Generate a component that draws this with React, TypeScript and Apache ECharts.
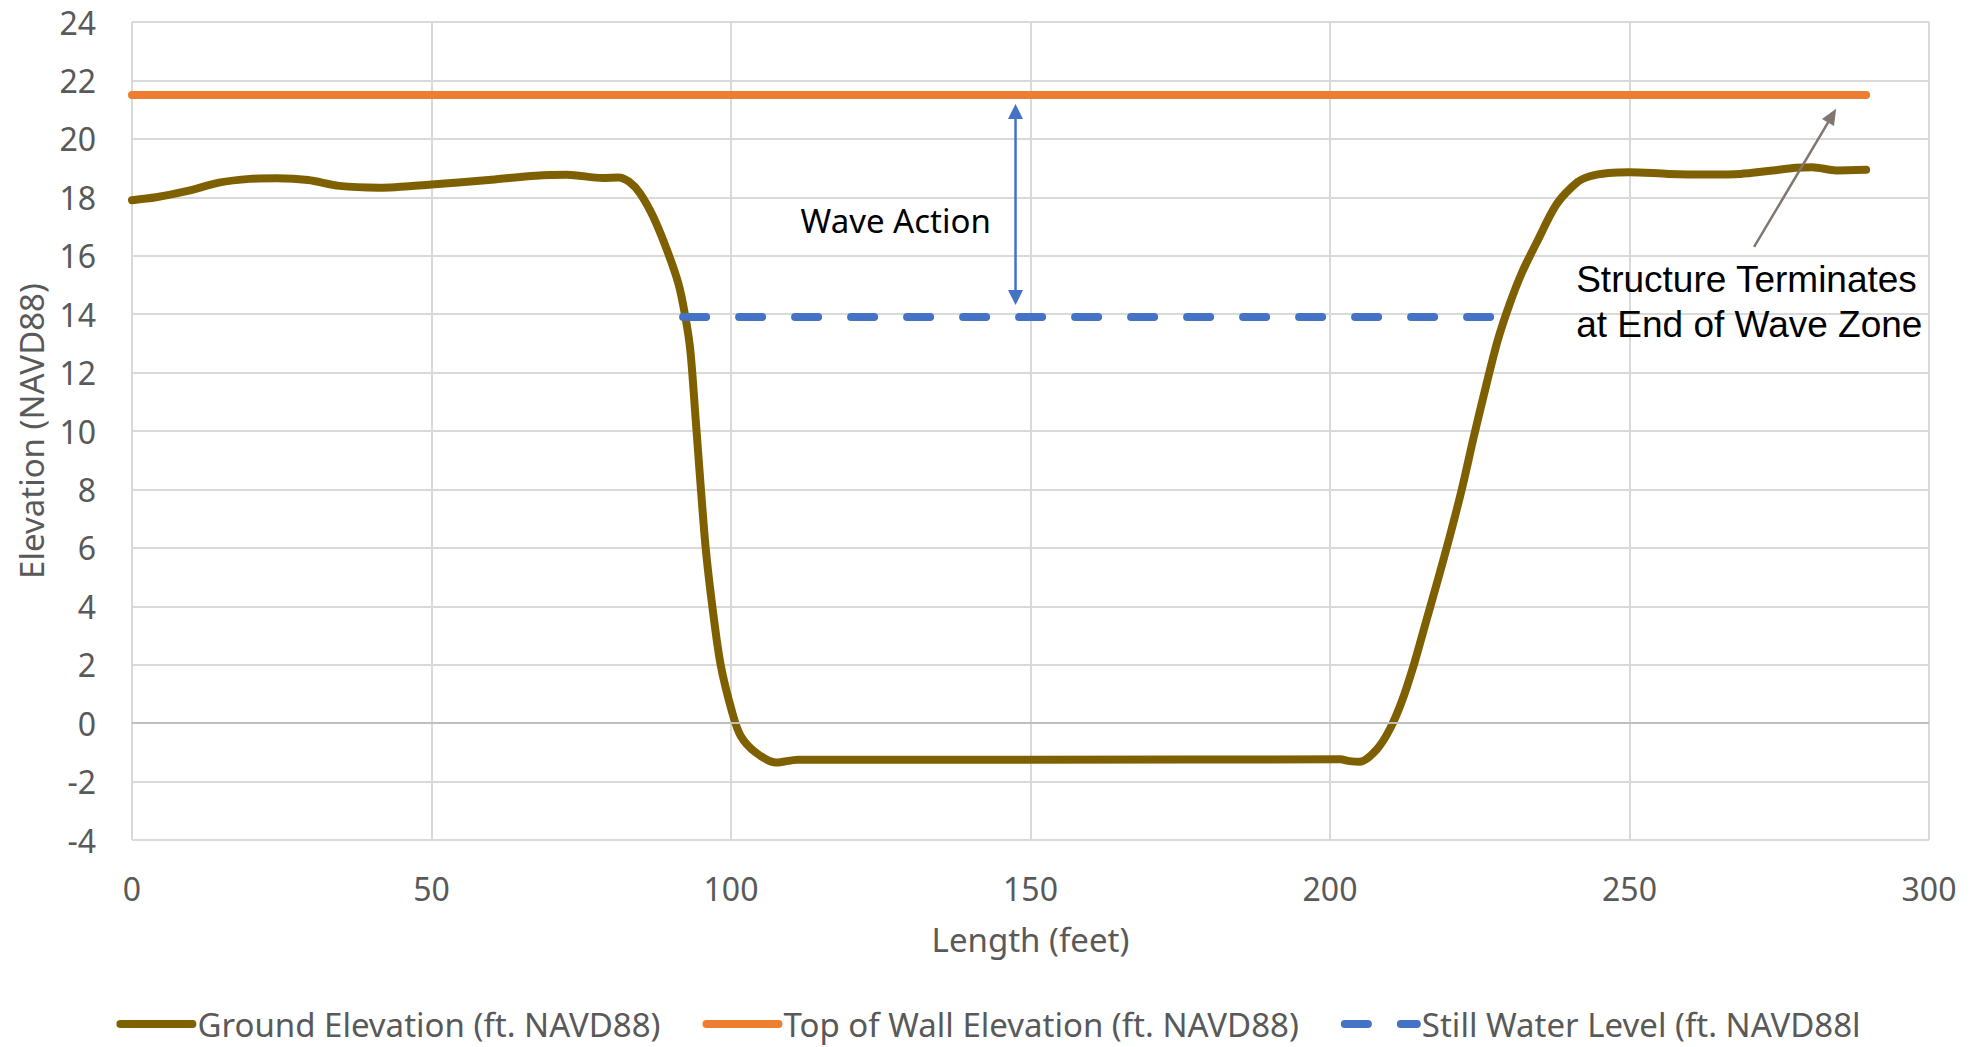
import React, { useEffect, useRef } from 'react';
import * as echarts from 'echarts';

// ---- data ----
const groundX = [0, 4, 9.3, 14.5, 19.7, 24.2, 29.4, 34.6, 41.3, 50, 60, 67.4, 72.6, 78.6, 81.2, 83, 84.8, 87, 89.3, 91.2, 92.3, 93.2, 94.1, 94.94, 95.77, 96.88, 98.27, 100.2, 101.6, 104.1, 107.5, 111.2, 150, 201.7, 203.3, 205, 207.8, 210, 212, 214, 216, 218, 220, 222, 224, 226, 228, 230, 232, 234.5, 237.8, 241.2, 243.4, 246.5, 250, 256.5, 263.2, 268.5, 273.2, 277.8, 280.5, 284.5, 289.5];
const groundY = [17.9, 18.0, 18.22, 18.5, 18.63, 18.65, 18.59, 18.39, 18.33, 18.44, 18.6, 18.74, 18.77, 18.66, 18.68, 18.53, 18.14, 17.34, 16.2, 15.06, 14.0, 12.78, 10.4, 8.11, 6.0, 4.0, 2.0, 0.37, -0.43, -1.0, -1.35, -1.25, -1.25, -1.24, -1.3, -1.32, -0.9, -0.2, 0.75, 2.0, 3.45, 4.9, 6.4, 8.0, 9.8, 11.5, 13.1, 14.35, 15.4, 16.45, 17.75, 18.5, 18.72, 18.83, 18.86, 18.8, 18.78, 18.8, 18.9, 19.01, 19.03, 18.92, 18.94];
const wallX = [0, 289.5];
const wallY = [21.5, 21.5];
const swlX = [92, 228];
const swlY = [13.9, 13.9];

const seriesNames = ['Ground Elevation (ft. NAVD88)', 'Top of Wall Elevation (ft. NAVD88)', 'Still Water Level (ft. NAVD88l'];
const xTitle = 'Length (feet)';
const yTitle = 'Elevation (NAVD88)';

// annotation anchors (data coordinates)
const waveArrowX = 147.5;
const waveArrowTop = 21.19;
const waveArrowBottom = 14.31;
const waveLabel = 'Wave Action';
const waveLabelPos = [127.5, 17.19];
const endArrowFrom = [270.8, 16.3];
const endArrowTo = [284.5, 21.03];
const endLabel = 'Structure Terminates\nat End of Wave Zone';
const endLabelPos = [241.1, 14.4];

const pairs = (xs: number[], ys: number[]) => xs.map((x, i) => [x, ys[i]]);

const FONT = 'Noto Sans';
const GREY = '#595959';
const LW = 8;

function arrowHead(tip: number[], from: number[], len: number, half: number) {
  const dx = tip[0] - from[0];
  const dy = tip[1] - from[1];
  const d = Math.hypot(dx, dy);
  const ux = dx / d, uy = dy / d;
  const nx = -uy, ny = ux;
  const bx = tip[0] - ux * len, by = tip[1] - uy * len;
  return {
    points: [[tip[0], tip[1]], [bx + nx * half, by + ny * half], [bx - nx * half, by - ny * half]],
    base: [tip[0] - ux * len * 0.8, tip[1] - uy * len * 0.8],
  };
}

export default function App() {
  const ref = useRef<HTMLDivElement>(null);
  useEffect(() => {
    const chart = echarts.init(ref.current!, null, { renderer: 'svg' });
    chart.setOption({
      animation: false,
      backgroundColor: '#ffffff',
      grid: { left: 132, right: 48, top: 22, bottom: 207, containLabel: false },
      legend: {
        data: seriesNames,
        top: 1002,
        left: 'center',
        itemWidth: 72,
        itemHeight: 14,
        itemGap: 42,
        itemStyle: { opacity: 0 },
        lineStyle: { width: LW, cap: 'round' },
        textStyle: { fontFamily: FONT, fontSize: 33, color: GREY, lineHeight: 34 },
      },
      xAxis: {
        type: 'value',
        min: 0,
        max: 300,
        interval: 50,
        name: xTitle,
        nameLocation: 'middle',
        nameGap: 83,
        nameTextStyle: { fontFamily: FONT, fontSize: 33, color: GREY },
        axisLine: { show: false },
        axisTick: { show: false },
        axisLabel: { fontFamily: FONT, fontSize: 32, color: GREY, margin: 32 },
        splitLine: { show: true, lineStyle: { color: '#d9d9d9', width: 2 } },
      },
      yAxis: {
        type: 'value',
        min: -4,
        max: 24,
        interval: 2,
        name: yTitle,
        nameLocation: 'middle',
        nameGap: 83,
        nameRotate: 90,
        nameTextStyle: { fontFamily: FONT, fontSize: 33, color: GREY },
        axisLine: { show: false },
        axisTick: { show: false },
        axisLabel: { fontFamily: FONT, fontSize: 32, color: GREY, margin: 36 },
        splitLine: { show: true, lineStyle: { color: '#d9d9d9', width: 2 } },
      },
      series: [
        {
          name: '__zero',
          type: 'line',
          data: [],
          z: 1,
          silent: true,
          markLine: {
            silent: true,
            symbol: 'none',
            label: { show: false },
            lineStyle: { color: '#bfbfbf', width: 2, type: 'solid' },
            data: [{ yAxis: 0 }],
          },
        },
        {
          name: seriesNames[0],
          type: 'line',
          z: 3,
          data: pairs(groundX, groundY),
          smooth: 0.3,
          showSymbol: false,
          symbol: 'none',
          color: '#7f6000',
          lineStyle: { color: '#7f6000', width: LW, cap: 'round', join: 'round' },
        },
        {
          name: seriesNames[1],
          type: 'line',
          z: 3,
          data: pairs(wallX, wallY),
          showSymbol: false,
          symbol: 'none',
          color: '#ed7d31',
          lineStyle: { color: '#ed7d31', width: LW, cap: 'round' },
        },
        {
          name: seriesNames[2],
          type: 'line',
          z: 4,
          data: pairs(swlX, swlY),
          showSymbol: false,
          symbol: 'none',
          color: '#4472c4',
          lineStyle: { color: '#4472c4', width: LW, type: [23, 33], cap: 'round' },
        },
      ],
    });

    const px = (p: number[]) => chart.convertToPixel({ gridIndex: 0 }, p) as number[];
    const wTop = px([waveArrowX, waveArrowTop]);
    const wBot = px([waveArrowX, waveArrowBottom]);
    const h1 = arrowHead(wTop, wBot, 15, 7.5);
    const h2 = arrowHead(wBot, wTop, 15, 7.5);
    const gFrom = px(endArrowFrom);
    const gTo = px(endArrowTo);
    const h3 = arrowHead(gTo, gFrom, 16, 7);
    const wl = px(waveLabelPos);
    const el = px(endLabelPos);

    chart.setOption({
      graphic: [
        { type: 'line', silent: true, z: 10, shape: { x1: h1.base[0], y1: h1.base[1], x2: h2.base[0], y2: h2.base[1] }, style: { stroke: '#4472c4', lineWidth: 2.5 } },
        { type: 'polygon', silent: true, z: 10, shape: { points: h1.points }, style: { fill: '#4472c4' } },
        { type: 'polygon', silent: true, z: 10, shape: { points: h2.points }, style: { fill: '#4472c4' } },
        { type: 'line', silent: true, z: 10, shape: { x1: gFrom[0], y1: gFrom[1], x2: h3.base[0], y2: h3.base[1] }, style: { stroke: '#7f7770', lineWidth: 2.5 } },
        { type: 'polygon', silent: true, z: 10, shape: { points: h3.points }, style: { fill: '#7f7770' } },
        {
          type: 'text', silent: true, z: 10, x: wl[0], y: wl[1],
          style: { text: waveLabel, fontFamily: FONT, fontSize: 33, fill: '#000000', align: 'center', verticalAlign: 'middle' },
        },
        {
          type: 'text', silent: true, z: 10, x: el[0], y: el[1],
          style: { text: endLabel, fontFamily: 'Liberation Sans', fontSize: 37, lineHeight: 45, fill: '#000000', align: 'left', verticalAlign: 'middle' },
        },
      ],
    });

    return () => chart.dispose();
  }, []);
  return <div ref={ref} style={{ position: 'fixed', left: 0, top: 0, width: 1977, height: 1047 }} />;
}
